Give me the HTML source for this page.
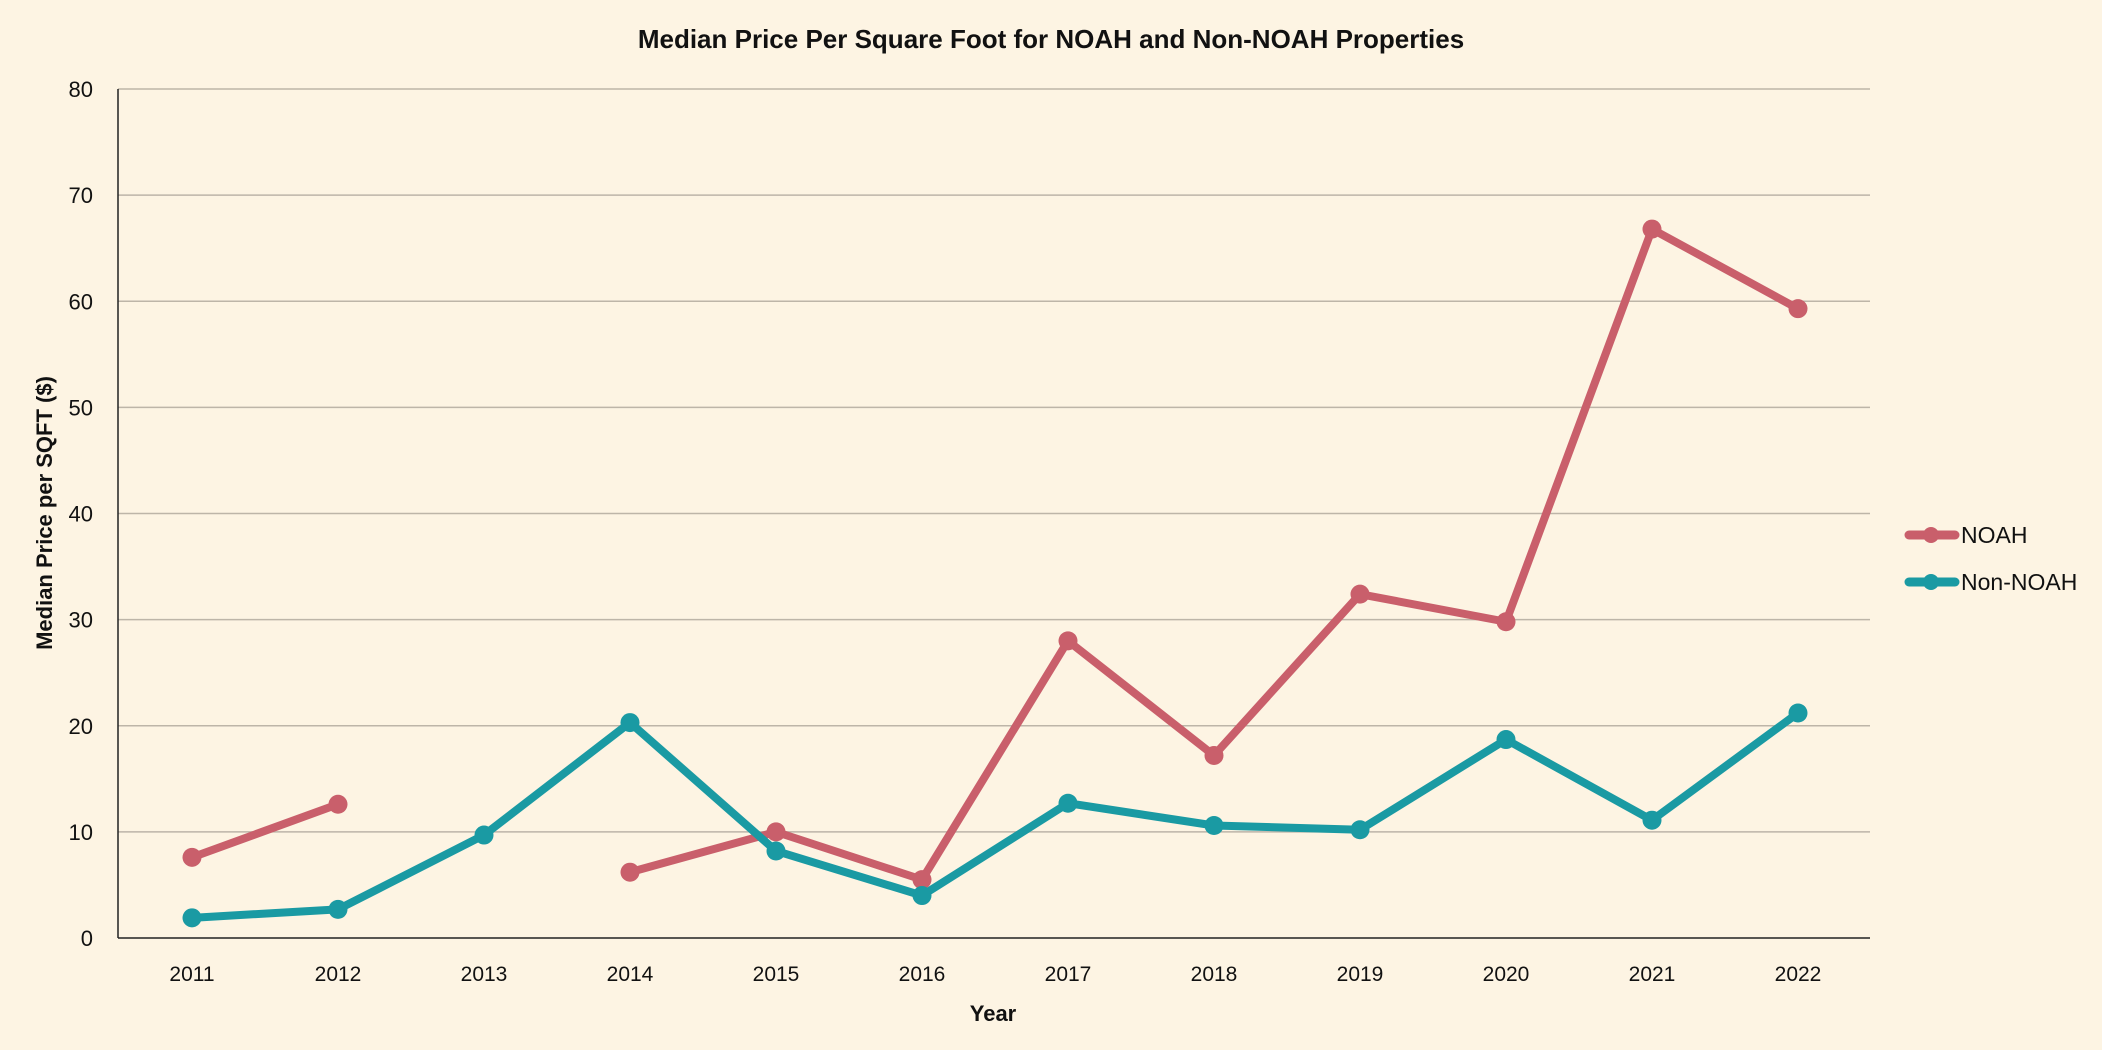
<!DOCTYPE html>
<html><head><meta charset="utf-8"><style>
html,body{margin:0;padding:0;background:#fdf4e3;}
svg{display:block;font-family:"Liberation Sans",sans-serif;}
</style></head><body>
<svg id="chart" width="2102" height="1050">
<rect width="2102" height="1050" fill="#fdf4e3"/>
<text x="1051" y="48" text-anchor="middle" font-size="26" font-weight="bold" fill="#111">Median Price Per Square Foot for NOAH and Non-NOAH Properties</text>
<g id="grid"></g><g id="axes"></g><g id="series"></g>
<text x="993" y="1021" text-anchor="middle" font-size="22" font-weight="bold" fill="#111">Year</text>
<text transform="translate(52,513) rotate(-90)" text-anchor="middle" font-size="22" font-weight="bold" fill="#111">Median Price per SQFT ($)</text>
<g>
<g>
<line x1="1909" y1="535" x2="1955" y2="535" stroke="#c95f6b" stroke-width="9" stroke-linecap="round"/>
<circle cx="1931" cy="535" r="8" fill="#c95f6b"/>
<text x="1961" y="543" font-size="23" fill="#111">NOAH</text></g>
<g>
<line x1="1909" y1="582" x2="1955" y2="582" stroke="#1a9aa3" stroke-width="9" stroke-linecap="round"/>
<circle cx="1931" cy="582" r="8" fill="#1a9aa3"/>
<text x="1961" y="590" font-size="23" fill="#111">Non-NOAH</text></g>
</g>
</svg>
<script>
const years=["2011","2012","2013","2014","2015","2016","2017","2018","2019","2020","2021","2022"];
const noah=[7.6,12.6,null,6.2,10,5.5,28,17.2,32.4,29.8,66.8,59.3];
const nonNoah=[1.9,2.7,9.7,20.3,8.2,4.0,12.7,10.6,10.2,18.7,11.1,21.2];
const yTicks=[0,10,20,30,40,50,60,70,80];
const NS="http://www.w3.org/2000/svg";
const L=118,R=1870,T=89,B=938,yMax=80;
const xs=i=>192+i*(1798-192)/(years.length-1);
const ys=v=>B-(v/yMax)*(B-T);
function mk(tag,attrs,parent){const e=document.createElementNS(NS,tag);for(const k in attrs)e.setAttribute(k,attrs[k]);parent.appendChild(e);return e;}
const grid=document.getElementById('grid'),axes=document.getElementById('axes'),ser=document.getElementById('series');
yTicks.forEach(t=>{
 if(t>0){const g=mk('line',{x1:L,x2:R,y1:ys(t),y2:ys(t),stroke:'#bdb5a8','stroke-width':1.5},grid);
 
 }
 const tx=mk('text',{x:93,y:ys(t)+8,'text-anchor':'end','font-size':22,fill:'#111'},axes);tx.textContent=t;
 
 
});
const ya=mk('line',{x1:L,x2:L,y1:T,y2:B,stroke:'#222','stroke-width':1.5},axes);


const xa=mk('line',{x1:L,x2:R,y1:B,y2:B,stroke:'#222','stroke-width':1.5},axes);


years.forEach((y,i)=>{const tx=mk('text',{x:xs(i),y:981,'text-anchor':'middle','font-size':21,fill:'#111'},axes);tx.textContent=y;
 
 });
function draw(data,color,name){
 let segs=[],cur=[];
 data.forEach((v,i)=>{if(v==null){if(cur.length)segs.push(cur);cur=[];}else cur.push([xs(i),ys(v)]);});
 if(cur.length)segs.push(cur);
 segs.forEach((s,k)=>{const p=mk('polyline',{points:s.map(q=>q.join(',')).join(' '),fill:'none',stroke:color,'stroke-width':8,'stroke-linejoin':'round','stroke-linecap':'round'},ser);
  
  });
 data.forEach((v,i)=>{if(v==null)return;const c=mk('circle',{cx:xs(i),cy:ys(v),r:9.5,fill:color},ser);
  
  });
}
draw(noah,'#c95f6b','noah');
draw(nonNoah,'#1a9aa3','non-noah');
</script>
</body></html>
